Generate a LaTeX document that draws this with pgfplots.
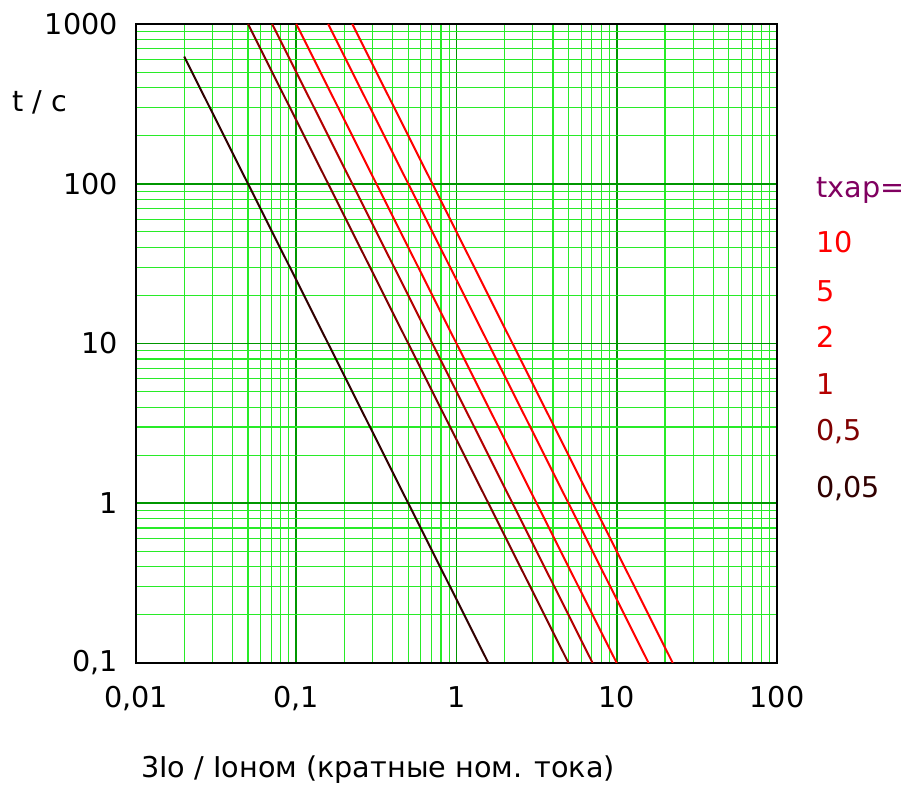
\documentclass[border=0pt]{standalone}
\usepackage{fontspec}
\setmainfont{DejaVu Sans}
\usepackage{pgfplots}
\pgfplotsset{compat=1.18}
\definecolor{minorg}{RGB}{40,235,40}
\definecolor{majorg}{RGB}{0,150,0}
\definecolor{cA}{RGB}{48,0,0}
\definecolor{cB}{RGB}{128,0,0}
\definecolor{cC}{RGB}{180,0,0}
\definecolor{cR}{RGB}{255,0,0}
\definecolor{cP}{RGB}{128,0,96}
\begin{document}
\begin{tikzpicture}
\path[use as bounding box] (-102pt,-93pt) rectangle (576pt,497.25pt);
\begin{axis}[
  at={(0pt,0pt)}, anchor=south west,
  scale only axis,
  width=480.75pt, height=479.25pt,
  xmode=log, ymode=log,
  xmin=0.01, xmax=100, ymin=0.1, ymax=1000,
  xtick={0.01,0.1,1,10,100},
  xticklabels={{0,01},{0,1},1,10,100},
  ytick={0.1,1,10,100,1000},
  yticklabels={{0,1},1,10,100,1000},
  minor xtick={0.02,0.03,0.04,0.05,0.06,0.07,0.08,0.09,
    0.2,0.3,0.4,0.5,0.6,0.7,0.8,0.9,
    2,3,4,5,6,7,8,9,20,30,40,50,60,70,80,90},
  minor ytick={0.2,0.3,0.4,0.5,0.6,0.7,0.8,0.9,
    2,3,4,5,6,7,8,9,20,30,40,50,60,70,80,90,
    200,300,400,500,600,700,800,900},
  /pgf/number format/assume math mode=true,
  ticklabel style={font=\fontsize{21.5}{26}\selectfont},
  xticklabel style={yshift=-14pt},
  yticklabel style={xshift=-10pt},
  major tick length=0pt, minor tick length=0pt,
  grid=both,
  minor grid style={draw=minorg, line width=0.8pt},
  major grid style={draw=majorg, line width=1.2pt},
  axis line style={black, line width=1.2pt},
  clip=true,
]
\addplot[cA, line width=1.5pt] coordinates {(0.02,625) (1.5811,0.1)};
\addplot[cB, line width=1.5pt] coordinates {(0.05,1000) (5,0.1)};
\addplot[cC, line width=1.5pt] coordinates {(0.070711,1000) (7.0711,0.1)};
\addplot[cR, line width=1.5pt] coordinates {(0.1,1000) (10,0.1)};
\addplot[cR, line width=1.5pt] coordinates {(0.15811,1000) (15.811,0.1)};
\addplot[cR, line width=1.5pt] coordinates {(0.22361,1000) (22.361,0.1)};
\end{axis}
\begin{scope}[x=0.75pt,y=0.75pt,every node/.style={anchor=west, inner sep=0pt, font=\fontsize{21.5}{26}\selectfont}]
\node[text=cP] at (680,473) {txap=};
\node[text=cR] at (680,421) {10};
\node[text=cR] at (680,372) {5};
\node[text=cR] at (680,326) {2};
\node[text=cC] at (680,279) {1};
\node[text=cB] at (680,231) {0,5};
\node[text=cA] at (680,174) {0,05};
\node[text=black] at (-124,561) {t / c};
\node[text=black, anchor=center] at (242,-107) {3Io / Ioном (кратные ном. тока)};
\end{scope}
\end{tikzpicture}
\end{document}
